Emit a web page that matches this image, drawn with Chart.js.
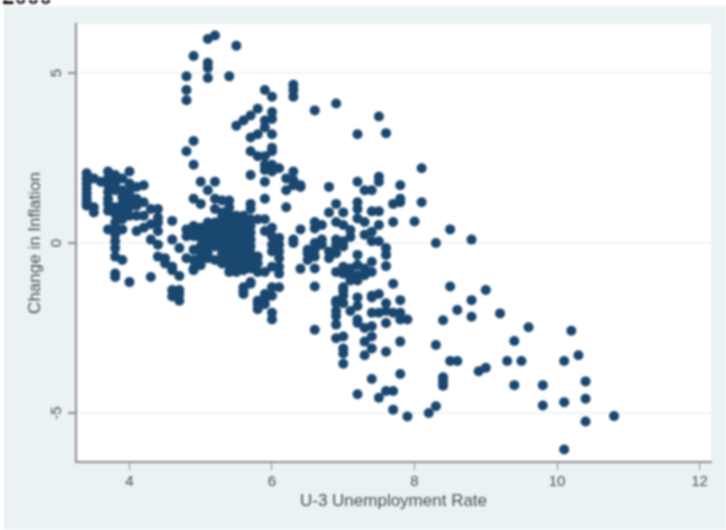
<!DOCTYPE html>
<html>
<head>
<meta charset="utf-8">
<style>
  html, body { margin: 0; padding: 0; background: #fff; }
  #wrap { width: 726px; height: 530px; overflow: hidden; }
  canvas { filter: blur(0.9px); }
</style>
<script src="https://cdn.jsdelivr.net/npm/chart.js@4"></script>
</head>
<body>
<div id="wrap"><canvas id="scatterCanvas" width="726" height="530"></canvas></div>
<script>
// unemployment rate steps, and the inflation changes seen at each step
const rates = [3.4,3.5,3.6,3.7,3.8,3.9,4.0,4.1,4.2,4.3,4.4,4.5,4.6,4.7,4.8,4.9,
  5.0,5.1,5.2,5.3,5.4,5.5,5.6,5.7,5.8,5.9,6.0,6.1,6.2,6.3,6.4,6.5,6.6,6.7,6.8,6.9,
  7.0,7.1,7.2,7.3,7.4,7.5,7.6,7.7,7.8,7.9,8.0,8.1,8.2,8.3,8.4,8.5,8.6,8.8,8.9,
  9.0,9.2,9.3,9.4,9.5,9.6,9.8,10.1,10.2,10.3,10.4,10.8];
const changes = [
  [2.05,1.9,1.75,1.6,1.45,1.3,1.2,1.1],
  [1.9,1.05,0.9],
  [1.8],
  [2.1,1.9,1.7,1.5,1.3,1.15,0.95,0.4],
  [2.0,1.75,1.55,1.05,0.85,0.6,0.4,0.25,0.05,-0.15,-0.4,-0.9,-1.0],
  [1.9,1.55,1.35,1.15,0.95,0.7,0.4,-0.5],
  [2.1,1.75,1.5,1.3,1.05,0.8,-1.15],
  [1.65,1.3,1.1,0.8,0.35],
  [1.7,1.2,0.8,0.45],
  [1.0,0.55,0.1,-1.0],
  [1.0,0.75,0.6,0.35,-0.05,-0.4],
  [-0.45,-0.6],
  [0.65,0.1,-0.7,-0.8,-1.38,-1.57],
  [-0.15,-0.97,-1.38,-1.5,-1.7],
  [4.9,4.5,4.2,2.7,0.4,0.2,-0.45],
  [5.5,3.0,2.3,1.3,0.5,0.35,0.2,-0.2,-0.5,-0.75,-0.8],
  [1.8,1.15,0.45,0.3,0.15,-0.1,-0.3,-0.5,-0.65],
  [6.0,5.3,5.15,4.85,1.55,0.6,0.45,0.3,0.15,0,-0.15,-0.3,-0.45],
  [6.1,1.8,1.3,1.0,0.6,0.45,0.3,0.15,0,-0.1,-0.5],
  [1.25,0.9,0.75,0.6,0.45,0.3,0.15,0,-0.15,-0.3,-0.45,-0.6],
  [4.9,1.25,1.05,0.85,0.7,0.55,0.4,0.25,0.1,-0.05,-0.2,-0.35,-0.5,-0.65,-0.85],
  [5.8,3.45,0.8,0.6,0.45,0.3,0.15,0,-0.15,-0.3,-0.45,-0.6,-0.7,-0.85],
  [3.6,0.8,0.6,0.4,0.2,0,-0.2,-0.4,-0.6,-0.8,-1.3,-1.4,-1.5],
  [3.75,3.1,2.7,2.0,1.15,1.0,0.7,0.5,0.3,0.1,-0.1,-0.3,-0.5,-0.75,-1.15,-1.2],
  [3.95,3.2,2.55,0.7,-0.4,-0.6,-0.85,-1.7,-1.8,-1.95],
  [4.5,3.6,3.4,2.55,2.3,2.15,1.8,1.3,0.7,0.35,-0.85,-1.5,-1.65,-1.8],
  [4.3,3.85,3.65,3.2,2.8,2.7,2.3,2.1,0.45,0.2,-0.05,-0.25,-0.7,-1.3,-1.55,-2.05,-2.25],
  [2.2,0.15,-0.05,-0.25,-0.45,-0.7,-0.9,-1.3],
  [1.9,1.55,1.05],
  [4.65,4.5,4.3,2.1,1.85,1.7,0.1,0],
  [1.7,1.65,0.4,-0.76],
  [-0.2,-0.3,-0.5],
  [3.9,0.62,0.43,0,-0.2,-0.4,-0.75,-1.28,-2.55],
  [0.53,0.1,-0.05],
  [1.65,0.9,-0.25,-0.45],
  [4.1,1.15,0.62,0.1,-0.05,-0.3,-0.85,-1.7,-1.77,-2.0,-2.15,-2.4,-2.8],
  [0.9,0.53,0.05,-0.1,-0.7,-0.9,-1.3,-1.4,-1.55,-1.77,-2.75,-3.1,-3.25,-3.55],
  [0.38,0.18,-0.75,-0.95,-1.1,-2.0],
  [3.2,1.8,1.2,1.0,0.72,-0.35,-0.65,-0.95,-1.1,-1.6,-1.85,-2.25,-2.35,-4.45],
  [1.55,0.62,0.24,-0.75,-0.95,-2.5,-2.9,-3.3],
  [1.55,0.93,0.33,0.05,-0.55,-0.85,-1.55,-1.6,-2.05,-2.45,-2.75,-3.1,-4.0],
  [3.72,1.95,1.8,0.93,0.53,0.05,-1.5,-2.05,-4.55],
  [3.23,-0.15,-0.35,-0.68,-1.77,-2.0,-2.35,-3.2,-4.35],
  [1.15,0.62,-1.2,-2.05,-4.35,-4.9],
  [1.7,1.3,1.2,-1.68,-2.05,-2.25,-2.9,-3.85],
  [-2.25,-5.1],
  [0.63],
  [2.2,1.2],
  [-5.0],
  [0,-3.0,-4.8],
  [-2.27,-3.95,-4.07,-4.2],
  [0.4,-1.28,-3.47],
  [-1.97,-3.47],
  [0.1,-1.68,-2.17],
  [-3.77],
  [-1.38,-3.67],
  [-2.07],
  [-3.47],
  [-2.88,-4.18],
  [-3.47],
  [-2.48],
  [-4.18,-4.78],
  [-3.47,-4.68,-6.07],
  [-2.58],
  [-3.3],
  [-4.07,-4.58,-5.25],
  [-5.09]
];
const xTicks = [4, 6, 8, 10, 12];
const yTicks = [-5, 0, 5];

const points = rates.flatMap((r, i) => changes[i].map(c => ({ x: r, y: c })));

// panel colour behind the plot, and the clipped text at the very top
const backdrop = {
  id: "backdrop",
  beforeDraw(chart) {
    const { ctx, chartArea: a } = chart;
    ctx.save();
    ctx.fillStyle = "#eaf2f3";
    ctx.fillRect(4, 6, 722, 524);
    ctx.fillStyle = "#fff";
    ctx.fillRect(a.left, a.top, a.right - a.left, a.bottom - a.top);
    ctx.restore();
  },
  afterDraw(chart) {
    const { ctx } = chart;
    ctx.save();
    ctx.fillStyle = "#000";
    ctx.font = "bold 25px 'Liberation Serif'";
    ctx.textBaseline = "alphabetic";
    ctx.fillText("2000", 2, 4);
    ctx.restore();
  }
};

const axisColor = "#8a8d8f";
const textColor = "#4a4e51";

new Chart(document.getElementById("scatterCanvas").getContext("2d"), {
  type: "scatter",
  plugins: [backdrop],
  data: {
    datasets: [{
      data: points,
      backgroundColor: "#1a476f",
      borderWidth: 0,
      pointRadius: 5
    }]
  },
  options: {
    responsive: false,
    animation: false,
    layout: { padding: { left: 0, top: 24, right: 15, bottom: 0 } },
    plugins: { legend: { display: false }, tooltip: { enabled: false } },
    scales: {
      x: {
        min: 3.25,
        max: 12.16,
        afterBuildTicks: s => { s.ticks = xTicks.map(v => ({ value: v })); },
        afterFit: s => { s.height = 68; },
        border: { color: axisColor, width: 2 },
        grid: { drawOnChartArea: false, color: axisColor, tickLength: 8 },
        ticks: {
          color: textColor,
          font: { family: "Liberation Sans", size: 15 },
          padding: 3,
          maxRotation: 0
        },
        title: {
          display: true,
          text: "U-3 Unemployment Rate",
          color: textColor,
          font: { family: "Liberation Sans", size: 17 },
          padding: { top: 4, bottom: 18 }
        }
      },
      y: {
        min: -6.44,
        max: 6.44,
        afterBuildTicks: s => { s.ticks = yTicks.map(v => ({ value: v })); },
        afterFit: s => { s.width = 76; },
        border: { color: axisColor, width: 2 },
        grid: { color: "#eef5f5", lineWidth: 2, tickColor: axisColor, tickLength: 8 },
        ticks: {
          color: textColor,
          font: { family: "Liberation Sans", size: 15 },
          padding: 4,
          minRotation: 90,
          maxRotation: 90,
          crossAlign: "center"
        },
        title: {
          display: true,
          text: "Change in Inflation",
          color: textColor,
          font: { family: "Liberation Sans", size: 17 },
          padding: { top: 25, bottom: 4 }
        }
      }
    }
  }
});
</script>
</body>
</html>
